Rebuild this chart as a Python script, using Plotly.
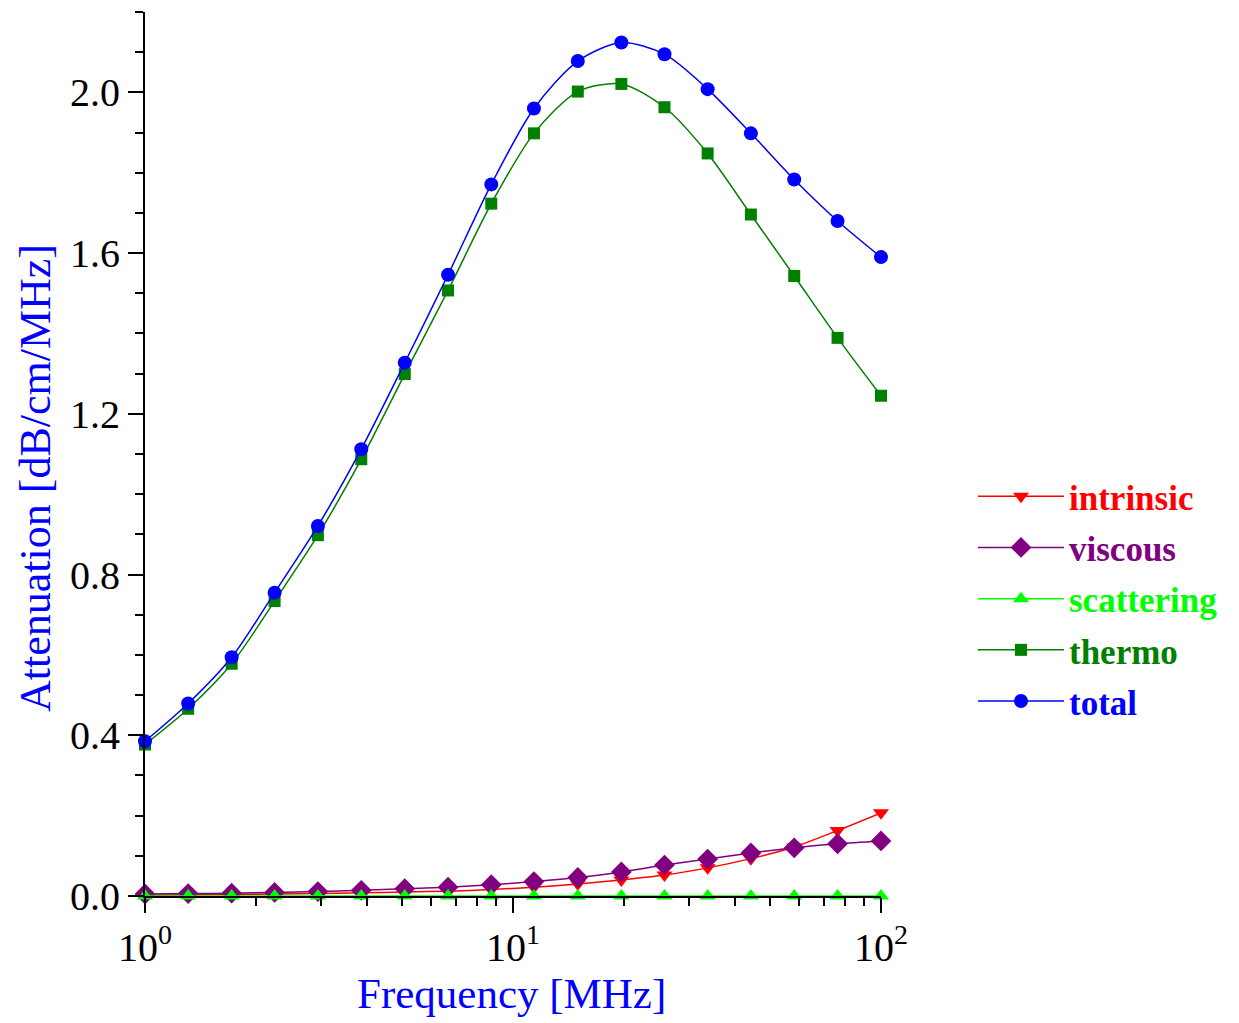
import plotly.graph_objects as go

freq = [1.0, 1.31, 1.72, 2.25, 2.95, 3.87, 5.08, 6.66, 8.73, 11.4, 15.0, 19.7,
        25.8, 33.8, 44.3, 58.1, 76.2, 100.0]

intrinsic = [0.002, 0.003, 0.004, 0.005, 0.006, 0.008, 0.010, 0.012, 0.016, 0.022,
             0.030, 0.040, 0.052, 0.070, 0.093, 0.122, 0.163, 0.207]
viscous = [0.005, 0.006, 0.007, 0.009, 0.011, 0.014, 0.018, 0.022, 0.028, 0.036,
           0.046, 0.060, 0.077, 0.092, 0.107, 0.120, 0.130, 0.137]
scattering = [0.0, 0.0, 0.0, 0.0, 0.0, 0.0, 0.0, 0.0, 0.0, 0.0,
              0.0, 0.0, 0.0, 0.0, 0.0, 0.0, 0.0, 0.0]
thermo = [0.377, 0.466, 0.578, 0.734, 0.898, 1.087, 1.299, 1.507, 1.723, 1.898,
          2.002, 2.021, 1.963, 1.848, 1.696, 1.543, 1.389, 1.245]
total = [0.385, 0.479, 0.594, 0.755, 0.921, 1.112, 1.327, 1.546, 1.771, 1.960,
         2.078, 2.124, 2.095, 2.008, 1.898, 1.783, 1.680, 1.590]

x_tickvals = [1, 10, 100]
x_ticktext = ["10<sup>0</sup>", "10<sup>1</sup>", "10<sup>2</sup>"]
x_minor = [2, 3, 4, 5, 6, 7, 8, 9, 20, 30, 40, 50, 60, 70, 80, 90]

series = [
    ("intrinsic", intrinsic, "#FF0000", "triangle-down", 14),
    ("viscous", viscous, "#800080", "diamond", 16),
    ("scattering", scattering, "#00FF00", "triangle-up", 14),
    ("thermo", thermo, "#008000", "square", 12),
    ("total", total, "#0000FF", "circle", 14),
]

FONT = "Liberation Serif, Times New Roman, serif"

fig = go.Figure()
for name, vals, color, sym, size in series:
    fig.add_trace(go.Scatter(
        x=freq, y=vals, mode="lines+markers",
        name=f"<b><span style='color:{color}'>{name}</span></b>",
        legendgroup=name,
        line=dict(color=color, width=1.5, shape="spline", smoothing=0.8),
        marker=dict(symbol=sym, size=size, color=color),
        cliponaxis=False,
    ))

fig.update_layout(
    width=1239, height=1023,
    margin=dict(l=145, r=358, t=12, b=127),
    paper_bgcolor="white", plot_bgcolor="white",
    font=dict(family=FONT, size=40, color="black"),
    showlegend=True,
    legend=dict(
        x=(973 - 145) / 736, xanchor="left",
        y=(896 - 467) / 884, yanchor="top",
        font=dict(family=FONT, size=35),
        itemwidth=86,
        tracegroupgap=2.7,
        traceorder="grouped",
        bgcolor="rgba(0,0,0,0)", borderwidth=0,
    ),
    xaxis=dict(
        type="log", range=[0, 2],
        tickmode="array", tickvals=x_tickvals, ticktext=x_ticktext,
        ticks="outside", ticklen=15, tickwidth=2, tickcolor="black",
        showline=True, linecolor="black", linewidth=2,
        showgrid=False, zeroline=False,
        tickfont=dict(family=FONT, size=40, color="black"),
        minor=dict(tickmode="array", tickvals=x_minor, ticks="outside",
                   ticklen=8, tickwidth=2, tickcolor="black", showgrid=False),
    ),
    yaxis=dict(
        range=[0, 2.2],
        tickmode="linear", tick0=0, dtick=0.4, tickformat=".1f",
        ticks="outside", ticklen=15, tickwidth=2, tickcolor="black",
        showline=True, linecolor="black", linewidth=2,
        showgrid=False, zeroline=False,
        tickfont=dict(family=FONT, size=40, color="black"),
        minor=dict(dtick=0.1, tick0=0, ticks="outside", ticklen=8, tickwidth=2,
                   tickcolor="black", showgrid=False),
    ),
    annotations=[
        dict(text="Attenuation [dB/cm/MHz]", textangle=-90,
             xref="paper", yref="paper", x=(35 - 145) / 736, y=(896 - 478) / 884,
             xanchor="center", yanchor="middle", showarrow=False,
             font=dict(family=FONT, size=44, color="#0000FF")),
        dict(text="Frequency [MHz]",
             xref="paper", yref="paper", x=(511 - 145) / 736, y=(896 - 993) / 884,
             xanchor="center", yanchor="middle", showarrow=False,
             font=dict(family=FONT, size=43, color="#0000FF")),
    ],
)

fig.write_html("out.html")
